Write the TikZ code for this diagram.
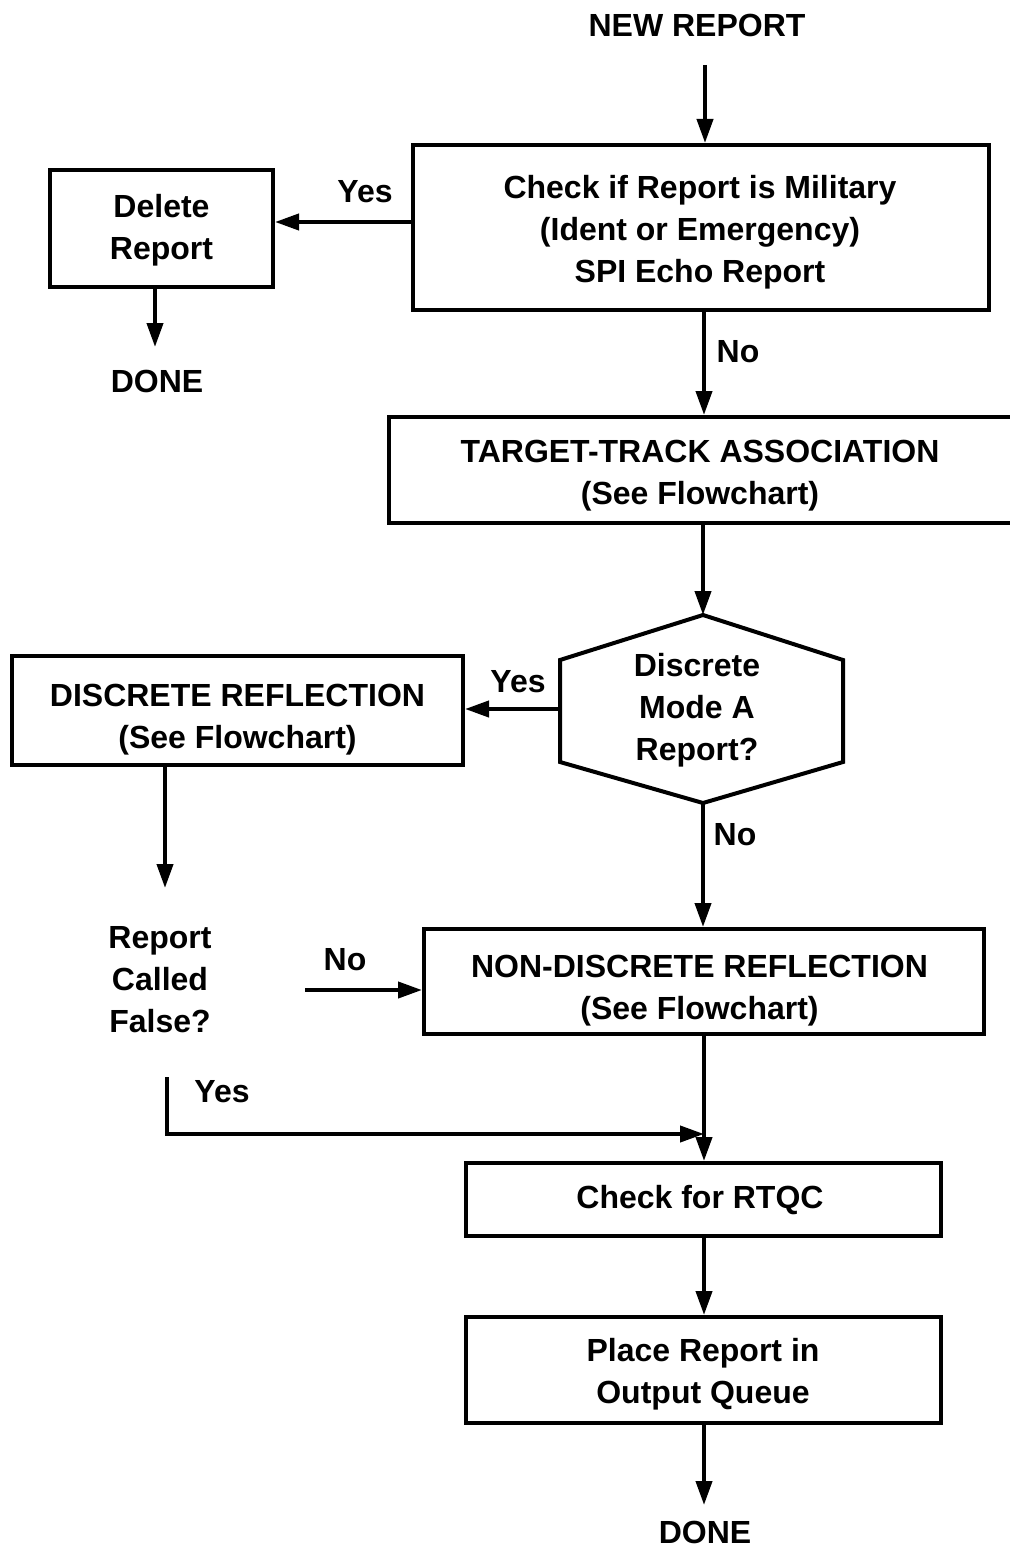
\documentclass[tikz,border=0pt]{standalone}
\usepackage{fontspec}
\setmainfont{Liberation Sans}
\usetikzlibrary{arrows.meta}
\newcommand\fsz{\fontsize{32}{42}\selectfont\bfseries}
\begin{document}
\begin{tikzpicture}[x=1pt,y=-1pt,
  box/.style={draw, line width=4pt, inner sep=0pt},
  lbl/.style={inner sep=0pt, align=center, font=\fsz},
  arr/.style={line width=4pt, -{Triangle[length=24pt,width=16pt]}},
  ln/.style={line width=4pt}]
\useasboundingbox[fill=white] (0,0) rectangle (1009,1549);
\coordinate (mx) at (704,0);
% title
\node[lbl] (newrep) at (697,25) {NEW REPORT};
\coordinate (startA) at (705,65);
% boxes
\node[box, minimum width=576pt, minimum height=165pt] (chk) at (701,227.5) {};
\node[lbl] (chkT) at (700,232.5) {Check if Report is Military\\(Ident or Emergency)\\SPI Echo Report};
\node[box, minimum width=223pt, minimum height=117pt] (del) at (161.5,228.5) {};
\node[lbl] (delT) at (161.5,230.5) {Delete\\Report};
\coordinate (yesA) at (413,222);
\node[lbl] (done1) at (157,381) {DONE};
\coordinate (doneA) at (155,347);
\node[box, minimum width=623pt, minimum height=106pt] (tta) at (700.5,470) {};
\node[lbl] (ttaT) at (700,476) {TARGET-TRACK ASSOCIATION\\(See Flowchart)};
% hexagon
\coordinate (hT) at (703,615);
\coordinate (hUR) at (843,660);
\coordinate (hLR) at (843,762);
\coordinate (hB) at (703,803);
\coordinate (hLL) at (560,762);
\coordinate (hUL) at (560,660);
\coordinate (hL) at (560,709);
\draw[ln, line join=miter] (hT) -- (hUR) -- (hLR) -- (hB) -- (hLL) -- (hUL) -- cycle;
\node[lbl] (dma) at (697,710.5) {Discrete\\Mode A\\Report?};
\node[box, minimum width=451pt, minimum height=109pt] (dr) at (237.5,710.5) {};
\node[lbl] (drT) at (237.5,719.5) {DISCRETE REFLECTION\\(See Flowchart)};
\node[lbl] (rcf) at (160,980) {Report\\Called\\False?};
\coordinate (drEnd) at (165,888);
\coordinate (noStart) at (305,990);
\node[box, minimum width=560pt, minimum height=105pt] (nd) at (704,981.5) {};
\node[lbl] (ndT) at (699.5,990.5) {NON-DISCRETE REFLECTION\\(See Flowchart)};
\coordinate (yesStart) at (167,1077);
\coordinate (yesCorner) at (167,1134);
\node[box, minimum width=475pt, minimum height=73pt] (rtqc) at (703.5,1199.5) {};
\node[lbl] (rtqcT) at (700,1200.5) {Check for RTQC};
\node[box, minimum width=475pt, minimum height=106pt] (prq) at (703.5,1370) {};
\node[lbl] (prqT) at (703,1374) {Place Report in\\Output Queue};
\node[lbl] (done2) at (705,1532) {DONE};
\coordinate (doneB) at (704,1505);
% labels
\node[lbl] (yes1) at (365,192) {Yes};
\node[lbl] (no1) at (738,352) {No};
\node[lbl] (yes2) at (518,682) {Yes};
\node[lbl] (no2) at (735,835) {No};
\node[lbl] (no3) at (345,960) {No};
\node[lbl] (yes3) at (222,1092) {Yes};
% connectors
\draw[arr] (startA) -- (startA |- chk.north);
\draw[arr] (yesA) -- (yesA -| del.east);
\draw[arr] (del.south -| doneA) -- (doneA);
\draw[arr] (chk.south -| mx) -- (tta.north -| mx);
\draw[arr] (tta.south -| hT) -- (hT);
\draw[arr] (hL) -- (hL -| dr.east);
\draw[arr] (hB) -- (nd.north -| hB);
\draw[arr] (dr.south -| drEnd) -- (drEnd);
\draw[arr] (noStart) -- (noStart -| nd.west);
\draw[arr] (nd.south -| mx) -- (rtqc.north -| mx);
\draw[arr] (yesStart) -- (yesCorner) -- (yesCorner -| mx);
\draw[arr] (rtqc.south -| mx) -- (prq.north -| mx);
\draw[arr] (prq.south -| mx) -- (doneB);
\end{tikzpicture}
\end{document}
